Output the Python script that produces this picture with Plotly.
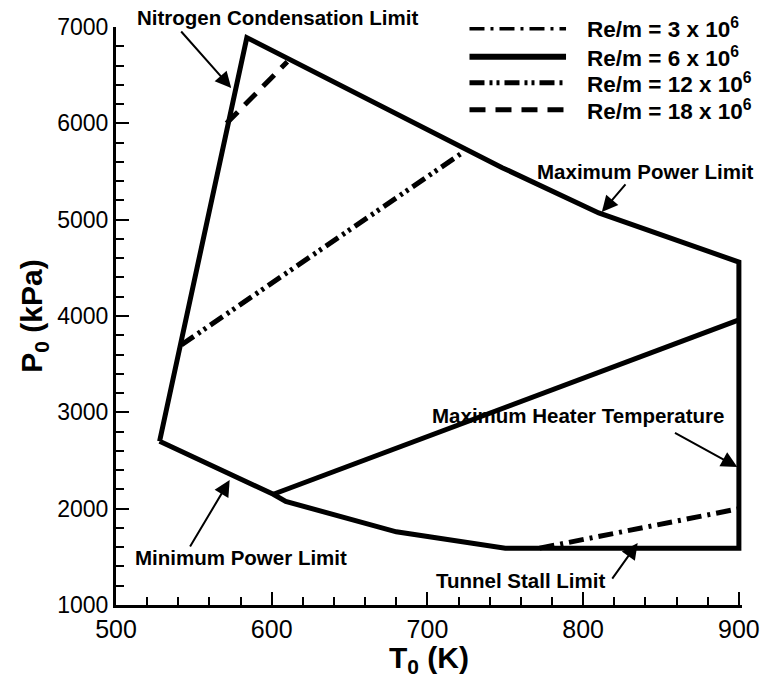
import plotly.graph_objects as go

# Operating envelope of the tunnel: stagnation temperature (K) vs stagnation pressure (kPa)
envelope_T = [528, 584, 748, 810, 900, 900, 750, 680, 609, 601, 528]
envelope_P = [2700, 6890, 5540, 5070, 4560, 1590, 1590, 1760, 2075, 2150, 2700]

# Constant unit Reynolds number lines
re3_T = [772, 900]
re3_P = [1590, 2000]
re6_T = [601, 900]
re6_P = [2150, 3960]
re12_T = [542, 722]
re12_P = [3700, 5690]
re18_T = [571, 610]
re18_P = [6000, 6640]

x_ticks = [500, 600, 700, 800, 900]
y_ticks = [1000, 2000, 3000, 4000, 5000, 6000, 7000]

FONT = "Liberation Sans, Arial, Helvetica, sans-serif"
LW = 5
DASH_DOT = "15px,6px,3px,6px"
DASH_DOT_DOT = "15px,5px,3px,4px,3px,5px"
DASHED = "16px,10px"

fig = go.Figure()

fig.add_trace(go.Scatter(x=envelope_T, y=envelope_P, mode="lines",
                         line=dict(color="black", width=LW), showlegend=False))
fig.add_trace(go.Scatter(x=re3_T, y=re3_P, mode="lines",
                         line=dict(color="black", width=LW, dash=DASH_DOT), showlegend=False))
fig.add_trace(go.Scatter(x=re6_T, y=re6_P, mode="lines",
                         line=dict(color="black", width=LW), showlegend=False))
fig.add_trace(go.Scatter(x=re12_T, y=re12_P, mode="lines",
                         line=dict(color="black", width=LW, dash=DASH_DOT_DOT), showlegend=False))
fig.add_trace(go.Scatter(x=re18_T, y=re18_P, mode="lines",
                         line=dict(color="black", width=LW, dash=DASHED), showlegend=False))

# Hand-built key in the upper right corner
legend_rows = [
    ("<b>Re/m = 3 x 10<sup>6</sup></b>", DASH_DOT, 5, 6990),
    ("<b>Re/m = 6 x 10<sup>6</sup></b>", "solid", 6, 6690),
    ("<b>Re/m = 12 x 10<sup>6</sup></b>", DASH_DOT_DOT, 5, 6420),
    ("<b>Re/m = 18 x 10<sup>6</sup></b>", DASHED, 5, 6140),
]
for label, dash, w, yy in legend_rows:
    fig.add_shape(type="line", xref="x", yref="y", x0=727, x1=789, y0=yy, y1=yy,
                  line=dict(color="black", width=w, dash=dash))
    fig.add_annotation(x=801, y=yy, xref="x", yref="y", text=label, showarrow=False,
                       xanchor="left", yanchor="middle",
                       font=dict(family=FONT, size=22.5, color="black"))

# Title of the top boundary sits above the plotting area
fig.add_annotation(x=604, y=1.0156, xref="x", yref="paper",
                   text="<b>Nitrogen Condensation Limit</b>", showarrow=False,
                   xanchor="center", yanchor="middle",
                   font=dict(family=FONT, size=20.5, color="black"))

# Labelled limits with pointer arrows
labels = [
    ("Maximum Power Limit", 840, 5505),
    ("Maximum Heater Temperature", 797, 2972),
    ("Tunnel Stall Limit", 760, 1259),
    ("Minimum Power Limit", 580, 1488),
]
for text, tx, ty in labels:
    fig.add_annotation(x=tx, y=ty, xref="x", yref="y", text=f"<b>{text}</b>",
                       showarrow=False, xanchor="center", yanchor="middle",
                       font=dict(family=FONT, size=20.5, color="black"))

arrows = [
    ((541, 6969), (574, 6367)),
    ((828, 5381), (812, 5079)),
    ((858, 2796), (899, 2432)),
    ((818, 1259), (835, 1643)),
    ((547, 1591), (573, 2297)),
]
for tail, head in arrows:
    fig.add_annotation(x=head[0], y=head[1], ax=tail[0], ay=tail[1],
                       xref="x", yref="y", axref="x", ayref="y", text="",
                       showarrow=True, arrowhead=2, arrowsize=1.6, arrowwidth=2,
                       arrowcolor="black")

axis_common = dict(
    showline=True, linecolor="black", linewidth=3, mirror=False,
    ticks="inside", ticklen=13, tickwidth=2, tickcolor="black",
    showgrid=False, zeroline=False,
)

fig.update_xaxes(
    range=[500, 902], tickvals=x_ticks, ticktext=[str(v) for v in x_ticks],
    tickfont=dict(family=FONT, size=25, color="black"),
    minor=dict(ticks="inside", ticklen=8, tickwidth=2, tickcolor="black", dtick=20, tick0=500),
    title=dict(text="<b>T<sub>0</sub> (K)</b>", font=dict(family=FONT, size=30, color="black"),
               standoff=2),
    **axis_common,
)
fig.update_yaxes(
    range=[1000, 7000], tickvals=y_ticks, ticktext=[str(v) for v in y_ticks],
    tickfont=dict(family=FONT, size=23, color="black"),
    minor=dict(ticks="inside", ticklen=8, tickwidth=2, tickcolor="black", dtick=200, tick0=1000),
    title=dict(text="<b>P<sub>0</sub> (kPa)</b>", font=dict(family=FONT, size=30, color="black"),
               standoff=6),
    **axis_common,
)

fig.update_layout(
    width=767, height=678,
    margin=dict(l=116, r=25, t=27, b=73, autoexpand=False),
    paper_bgcolor="white", plot_bgcolor="white",
    showlegend=False,
    font=dict(family=FONT, color="black"),
)

fig.write_html("out.html")
